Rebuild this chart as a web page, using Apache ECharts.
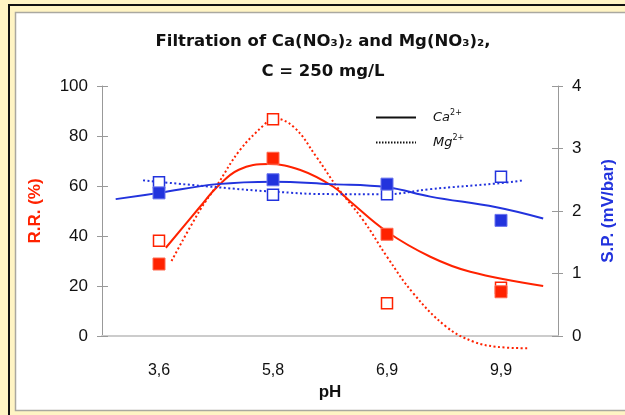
<!DOCTYPE html>
<html>
<head>
<meta charset="utf-8">
<script src="https://cdn.jsdelivr.net/npm/echarts@6/dist/echarts.min.js"></script>
<style>
html, body { margin: 0; padding: 0; }
#chart { width: 625px; height: 415px; }
</style>
</head>
<body>
<div id="chart"></div>
<script>
// pH categories
var categories = ['3,6', '5,8', '6,9', '9,9'];

// measured points
var caRR = [28.8, 71.1, 40.7, 17.7];   // R.R. (%) Ca2+
var mgRR = [38.1, 86.7, 13.1, 19.3];   // R.R. (%) Mg2+
var caSP = [2.29, 2.50, 2.43, 1.85];   // S.P. (mV/bar) Ca2+
var mgSP = [2.46, 2.26, 2.27, 2.55];   // S.P. (mV/bar) Mg2+

// fitted curves (x in category units, 0..4, category centres at 0.5, 1.5, ...)
var caRRFitX = [0.56, 0.86, 1.01, 1.20, 1.46, 1.74, 2.03, 2.18, 2.50, 2.88, 3.23, 3.87];
var caRRFitY = [35.3, 51.7, 59.6, 66.5, 68.8, 66.4, 59.7, 53.7, 41.7, 31.7, 25.7, 20.0];
var mgRRFitX = [0.61, 0.86, 1.01, 1.21, 1.42, 1.50, 1.68, 1.88, 2.06, 2.29, 2.50, 2.73, 3.02, 3.26, 3.46, 3.73];
var mgRRFitY = [30.0, 50.4, 60.4, 74.4, 84.4, 87.1, 83.7, 71.7, 59.7, 46.4, 31.7, 17.1, 3.7, -2.3, -4.3, -4.9];
var caSPFitX = [0.12, 0.50, 1.01, 1.50, 2.00, 2.50, 2.88, 3.46, 3.87];
var caSPFitY = [2.19, 2.29, 2.43, 2.47, 2.43, 2.38, 2.23, 2.06, 1.88];
var mgSPFitX = [0.36, 1.01, 1.50, 2.00, 2.50, 2.88, 3.46, 3.70];
var mgSPFitY = [2.49, 2.38, 2.31, 2.27, 2.27, 2.35, 2.44, 2.49];

// tick labels
var rrTicks = [0, 20, 40, 60, 80, 100];
var spTicks = [0, 1, 2, 3, 4];

var red = '#FF2200';
var blue = '#2233DD';

function pairs(xs, ys) {
    return xs.map(function (x, i) { return [x, ys[i]]; });
}

var chart = echarts.init(document.getElementById('chart'));

var option = {
    backgroundColor: '#FFF4C4',
    animation: false,
    graphic: [
        {
            type: 'rect', z: -10,
            shape: { x: 9, y: 5, width: 700, height: 500 },
            style: { fill: 'none', stroke: '#111', lineWidth: 2 }
        },
        {
            type: 'rect', z: -9,
            shape: { x: 15.5, y: 12.5, width: 700, height: 398 },
            style: { fill: '#fff', stroke: '#AAA8A0', lineWidth: 1.5 }
        }
    ],
    title: {
        text: 'Filtration of Ca(NO₃)₂ and Mg(NO₃)₂,\nC = 250 mg/L',
        left: 318,
        textAlign: 'center',
        top: 22,
        textStyle: {
            fontFamily: 'DejaVu Sans',
            fontWeight: 'bold',
            fontSize: 16.5,
            lineHeight: 30,
            color: '#111'
        }
    },
    legend: {
        orient: 'vertical',
        left: 370,
        top: 104,
        itemGap: 10,
        itemWidth: 40,
        itemHeight: 14,
        data: ['Ca', 'Mg'],
        itemStyle: { opacity: 0 },
        formatter: function (name) {
            return '{b|' + name + '}{s|2+}';
        },
        textStyle: {
            rich: {
                b: { fontFamily: 'DejaVu Sans', fontStyle: 'italic', fontSize: 13, color: '#111', padding: [0, 0, 0, 12] },
                s: { fontFamily: 'DejaVu Sans', fontSize: 8, color: '#111', padding: [0, 0, 9, 0] }
            }
        }
    },
    grid: { left: 102, right: 67, top: 86, bottom: 79 },
    xAxis: [
        {
            type: 'category',
            data: categories,
            position: 'bottom',
            name: 'pH',
            nameLocation: 'middle',
            nameGap: 47,
            nameTextStyle: { fontFamily: 'Liberation Sans', fontWeight: 'bold', fontSize: 17, color: '#111' },
            axisLine: { lineStyle: { color: '#CCCCCC', width: 2 } },
            axisTick: { alignWithLabel: false, length: 7, lineStyle: { color: '#999' } },
            axisLabel: { margin: 27, fontFamily: 'Liberation Sans', fontSize: 16, color: '#111' }
        },
        {
            type: 'value',
            min: 0,
            max: 4,
            show: false
        },
        {
            type: 'category',
            data: categories,
            position: 'bottom',
            axisLine: { show: false },
            axisTick: { inside: true, length: 6, lineStyle: { color: '#999' } },
            axisLabel: { show: false }
        }
    ],
    yAxis: [
        {
            type: 'value',
            min: 0,
            max: 100,
            interval: 20,
            position: 'left',
            name: 'R.R. (%)',
            nameLocation: 'middle',
            nameRotate: 90,
            nameGap: 58,
            nameTextStyle: { fontFamily: 'Liberation Sans', fontWeight: 'bold', fontSize: 17, color: red },
            axisLine: { show: true, lineStyle: { color: '#999' } },
            axisTick: { show: true, length: 5, lineStyle: { color: '#999' } },
            axisLabel: {
                margin: 14, fontFamily: 'Liberation Sans', fontSize: 17, color: '#111',
                formatter: function (v) { return rrTicks.indexOf(v) >= 0 ? String(v) : ''; }
            },
            splitLine: { show: false }
        },
        {
            type: 'value',
            min: 0,
            max: 4,
            interval: 1,
            position: 'right',
            name: 'S.P. (mV/bar)',
            nameLocation: 'middle',
            nameRotate: 90,
            nameGap: 42,
            nameTextStyle: { fontFamily: 'Liberation Sans', fontWeight: 'bold', fontSize: 17, color: blue },
            axisLine: { show: true, lineStyle: { color: '#999' } },
            axisTick: { show: true, length: 5, lineStyle: { color: '#999' } },
            axisLabel: {
                margin: 14, fontFamily: 'Liberation Sans', fontSize: 17, color: '#111',
                formatter: function (v) { return spTicks.indexOf(v) >= 0 ? String(v) : ''; }
            },
            splitLine: { show: false }
        },
        {
            type: 'value', min: 0, max: 100, interval: 20, position: 'left',
            axisLine: { show: false },
            axisTick: { show: true, inside: true, length: 6, lineStyle: { color: '#999' } },
            axisLabel: { show: false },
            splitLine: { show: false }
        },
        {
            type: 'value', min: 0, max: 4, interval: 1, position: 'right',
            axisLine: { show: false },
            axisTick: { show: true, inside: true, length: 6, lineStyle: { color: '#999' } },
            axisLabel: { show: false },
            splitLine: { show: false }
        }
    ],
    series: [
        // legend-only entries
        { name: 'Ca', type: 'line', data: [], symbol: 'none', color: '#111', lineStyle: { color: '#111', width: 2 } },
        { name: 'Mg', type: 'line', data: [], symbol: 'none', color: '#111', lineStyle: { color: '#111', width: 2, type: [1.5, 1.5] } },

        // fitted curves
        {
            type: 'line', xAxisIndex: 1, yAxisIndex: 0, data: pairs(caRRFitX, caRRFitY),
            smooth: 0.4, symbol: 'none', lineStyle: { color: red, width: 2 }, clip: false
        },
        {
            type: 'line', xAxisIndex: 1, yAxisIndex: 0, data: pairs(mgRRFitX, mgRRFitY),
            smooth: 0.4, symbol: 'none', lineStyle: { color: red, width: 2, type: [2, 2.5] }, clip: false
        },
        {
            type: 'line', xAxisIndex: 1, yAxisIndex: 1, data: pairs(caSPFitX, caSPFitY),
            smooth: 0.4, symbol: 'none', lineStyle: { color: blue, width: 2 }, clip: false
        },
        {
            type: 'line', xAxisIndex: 1, yAxisIndex: 1, data: pairs(mgSPFitX, mgSPFitY),
            smooth: 0.4, symbol: 'none', lineStyle: { color: blue, width: 2, type: [2, 2.5] }, clip: false
        },

        // measured points
        {
            type: 'scatter', xAxisIndex: 0, yAxisIndex: 0, data: mgRR, symbol: 'rect', symbolSize: 11, z: 5,
            itemStyle: { color: '#fff', borderColor: red, borderWidth: 1.5, opacity: 1 }
        },
        {
            type: 'scatter', xAxisIndex: 0, yAxisIndex: 0, data: caRR, symbol: 'rect', symbolSize: 12, z: 6,
            itemStyle: { color: red, borderColor: '#FF6A50', borderWidth: 1, opacity: 1 }
        },
        {
            type: 'scatter', xAxisIndex: 0, yAxisIndex: 1, data: mgSP, symbol: 'rect', symbolSize: 11, z: 5,
            itemStyle: { color: '#fff', borderColor: blue, borderWidth: 1.5, opacity: 1 }
        },
        {
            type: 'scatter', xAxisIndex: 0, yAxisIndex: 1, data: caSP, symbol: 'rect', symbolSize: 12, z: 6,
            itemStyle: { color: blue, borderColor: '#6A74EE', borderWidth: 1, opacity: 1 }
        }
    ]
};

chart.setOption(option);

window.onresize = function () {
    chart.resize();
};
</script>
</body>
</html>
